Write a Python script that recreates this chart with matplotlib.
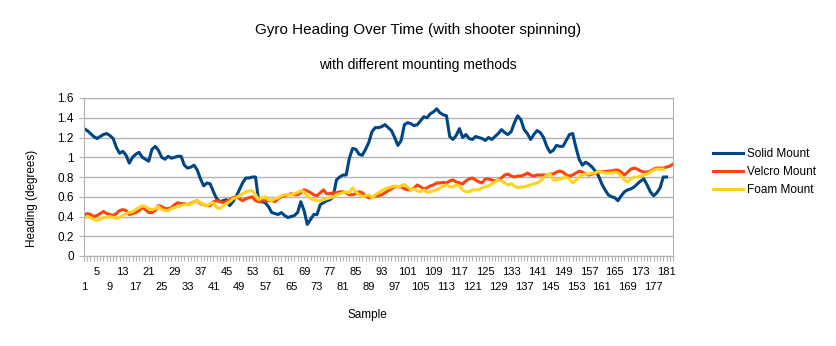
import matplotlib
matplotlib.use("Agg")
import matplotlib.pyplot as plt
from matplotlib.ticker import FuncFormatter

plt.rcParams['font.family'] = ['Liberation Sans', 'DejaVu Sans']

# heading readings (degrees), one per sample
solid = [1.29, 1.27, 1.24, 1.21, 1.19, 1.21, 1.23, 1.24, 1.22, 1.19,
         1.10, 1.04, 1.06, 1.02, 0.94, 1.00, 1.03, 1.05, 1.00, 0.98,
         0.96, 1.08, 1.11, 1.07, 1.00, 0.98, 1.01, 0.99, 1.00, 1.01,
         1.01, 0.92, 0.89, 0.90, 0.92, 0.87, 0.78, 0.71, 0.74, 0.73,
         0.65, 0.58, 0.55, 0.56, 0.57, 0.51, 0.55, 0.60, 0.67, 0.74,
         0.79, 0.79, 0.80, 0.80, 0.55, 0.55, 0.54, 0.50, 0.44, 0.43,
         0.42, 0.44, 0.41, 0.39, 0.40, 0.41, 0.44, 0.55, 0.46, 0.32,
         0.37, 0.42, 0.42, 0.52, 0.54, 0.56, 0.57, 0.60, 0.77, 0.80,
         0.82, 0.82, 0.99, 1.09, 1.08, 1.03, 1.02, 1.08, 1.15, 1.26,
         1.30, 1.30, 1.31, 1.33, 1.30, 1.27, 1.20, 1.12, 1.17, 1.33,
         1.35, 1.34, 1.32, 1.33, 1.37, 1.41, 1.40, 1.44, 1.46, 1.49,
         1.45, 1.43, 1.42, 1.21, 1.18, 1.22, 1.29, 1.20, 1.23, 1.19,
         1.18, 1.21, 1.20, 1.19, 1.17, 1.20, 1.18, 1.21, 1.24, 1.28,
         1.25, 1.23, 1.26, 1.35, 1.42, 1.38, 1.28, 1.24, 1.18, 1.23,
         1.27, 1.25, 1.20, 1.11, 1.05, 1.07, 1.12, 1.11, 1.11, 1.17,
         1.23, 1.24, 1.10, 0.98, 0.92, 0.95, 0.93, 0.90, 0.86, 0.81,
         0.73, 0.67, 0.62, 0.60, 0.59, 0.56, 0.61, 0.65, 0.67, 0.68,
         0.70, 0.73, 0.76, 0.78, 0.72, 0.65, 0.61, 0.64, 0.69, 0.80, 0.80]

velcro = [0.41, 0.43, 0.42, 0.40, 0.41, 0.43, 0.45, 0.43, 0.42, 0.41,
          0.43, 0.46, 0.47, 0.46, 0.42, 0.43, 0.44, 0.46, 0.49, 0.47,
          0.44, 0.44, 0.46, 0.51, 0.50, 0.48, 0.48, 0.49, 0.52, 0.54,
          0.53, 0.53, 0.52, 0.53, 0.55, 0.56, 0.53, 0.52, 0.51, 0.51,
          0.55, 0.56, 0.55, 0.54, 0.55, 0.57, 0.59, 0.60, 0.58, 0.56,
          0.58, 0.59, 0.60, 0.56, 0.55, 0.56, 0.56, 0.56, 0.56, 0.55,
          0.58, 0.60, 0.61, 0.62, 0.63, 0.62, 0.62, 0.64, 0.67, 0.66,
          0.64, 0.62, 0.61, 0.64, 0.67, 0.63, 0.63, 0.64, 0.64, 0.65,
          0.65, 0.64, 0.62, 0.62, 0.63, 0.65, 0.64, 0.61, 0.59, 0.59,
          0.61, 0.61, 0.62, 0.64, 0.66, 0.68, 0.70, 0.70, 0.70, 0.68,
          0.67, 0.67, 0.69, 0.72, 0.70, 0.68, 0.69, 0.71, 0.72, 0.74,
          0.74, 0.745, 0.74, 0.76, 0.77, 0.75, 0.74, 0.73, 0.76, 0.78,
          0.79, 0.77, 0.75, 0.74, 0.78, 0.78, 0.77, 0.76, 0.77, 0.79,
          0.82, 0.83, 0.81, 0.80, 0.81, 0.81, 0.82, 0.84, 0.82, 0.81,
          0.82, 0.82, 0.82, 0.82, 0.83, 0.83, 0.85, 0.86, 0.85, 0.82,
          0.81, 0.82, 0.84, 0.86, 0.85, 0.83, 0.82, 0.83, 0.84, 0.85,
          0.855, 0.855, 0.86, 0.86, 0.87, 0.87, 0.85, 0.82, 0.85, 0.88,
          0.89, 0.88, 0.86, 0.85, 0.85, 0.86, 0.88, 0.89, 0.89, 0.89,
          0.90, 0.91, 0.93]

foam = [0.38, 0.40, 0.39, 0.37, 0.36, 0.37, 0.39, 0.39, 0.40, 0.39,
        0.38, 0.39, 0.41, 0.43, 0.44, 0.45, 0.47, 0.49, 0.51, 0.50,
        0.48, 0.47, 0.48, 0.50, 0.47, 0.46, 0.46, 0.48, 0.49, 0.50,
        0.51, 0.52, 0.52, 0.52, 0.55, 0.56, 0.54, 0.52, 0.51, 0.53,
        0.54, 0.49, 0.48, 0.51, 0.53, 0.55, 0.58, 0.59, 0.61, 0.63,
        0.65, 0.66, 0.66, 0.62, 0.57, 0.59, 0.60, 0.57, 0.56, 0.58,
        0.59, 0.61, 0.62, 0.62, 0.62, 0.63, 0.645, 0.66, 0.65, 0.61,
        0.58, 0.57, 0.56, 0.56, 0.57, 0.58, 0.59, 0.60, 0.62, 0.63,
        0.64, 0.65, 0.64, 0.69, 0.65, 0.62, 0.60, 0.61, 0.62, 0.59,
        0.62, 0.64, 0.66, 0.68, 0.69, 0.70, 0.71, 0.70, 0.71, 0.725,
        0.70, 0.67, 0.68, 0.66, 0.65, 0.67, 0.645, 0.65, 0.66, 0.67,
        0.69, 0.71, 0.72, 0.70, 0.70, 0.72, 0.71, 0.67, 0.65, 0.65,
        0.67, 0.67, 0.67, 0.69, 0.70, 0.71, 0.73, 0.75, 0.77, 0.76,
        0.74, 0.72, 0.73, 0.71, 0.69, 0.70, 0.70, 0.71, 0.72, 0.73,
        0.74, 0.76, 0.79, 0.82, 0.83, 0.77, 0.77, 0.78, 0.79, 0.80,
        0.78, 0.74, 0.77, 0.80, 0.82, 0.83, 0.83, 0.84, 0.84, 0.86,
        0.85, 0.84, 0.84, 0.84, 0.85, 0.84, 0.81, 0.77, 0.75, 0.78,
        0.80, 0.80, 0.81, 0.82, 0.83, 0.85, 0.87, 0.88, 0.88, 0.88]

n_samples = 183
top_row = list(range(5, 182, 8))      # 5, 13, ... 181
bottom_row = list(range(1, 182, 8))   # 1, 9, ... 177
series_names = ['Solid Mount', 'Velcro Mount', 'Foam Mount']
colors = ['#004586', '#ff420e', '#ffd320']
grid_col = '#b3b3b3'

fig = plt.figure(figsize=(8.36, 3.46), dpi=100)
ax = fig.add_axes([84/836, 1-256/346, (673-84)/836, (256-98)/346])

for vals, name, c in zip([solid, velcro, foam], series_names, colors):
    ax.plot(range(1, len(vals)+1), vals, color=c, lw=2.2, label=name,
            solid_joinstyle='round')

ax.set_xlim(1, n_samples)
ax.set_ylim(0, 1.6)
ax.set_yticks([i*0.2 for i in range(9)])
ax.yaxis.set_major_formatter(FuncFormatter(lambda v, p: f'{v:g}'))
ax.grid(axis='y', color=grid_col, lw=1)
ax.set_axisbelow(True)

# small tick mark at every sample, no labels on the main axis
ax.set_xticks(range(1, n_samples+1))
ax.set_xticklabels([])
ax.tick_params(axis='both', colors=grid_col, labelcolor='black',
               labelsize=8.5, length=3.8, width=0.8)
ax.tick_params(axis='y', pad=3.5)
for s in ax.spines.values():
    s.set_color(grid_col)

# labels every 4th sample in two staggered rows
sec = ax.secondary_xaxis('bottom')
sec.set_xticks(top_row)
sec.set_xticklabels([str(v) for v in top_row])
sec.set_xticks(bottom_row, minor=True)
sec.set_xticklabels([str(v) for v in bottom_row], minor=True)
sec.tick_params(which='both', length=0, labelsize=8)
sec.tick_params(which='major', pad=7.6)
sec.tick_params(which='minor', pad=19.0)
sec.spines['bottom'].set_visible(False)

fig.text(0.5, 1-30/346, 'Gyro Heading Over Time (with shooter spinning)',
         ha='center', va='center', fontsize=11)
fig.text(0.5, 1-65/346, 'with different mounting methods',
         ha='center', va='center', fontsize=10)
fig.text(32/836, 1-198/346, 'Heading (degrees)', rotation=90,
         ha='center', va='center', fontsize=8.5)
fig.text(367/836, 1-315/346, 'Sample', ha='center', va='center', fontsize=8.5)

fig.legend(loc='center left', bbox_to_anchor=(713/836, 1-172/346),
           frameon=False, fontsize=8.5, handlelength=2.5, handletextpad=0.35,
           labelspacing=0.5, borderpad=0, borderaxespad=0)

fig.savefig('out.png', dpi=100)
